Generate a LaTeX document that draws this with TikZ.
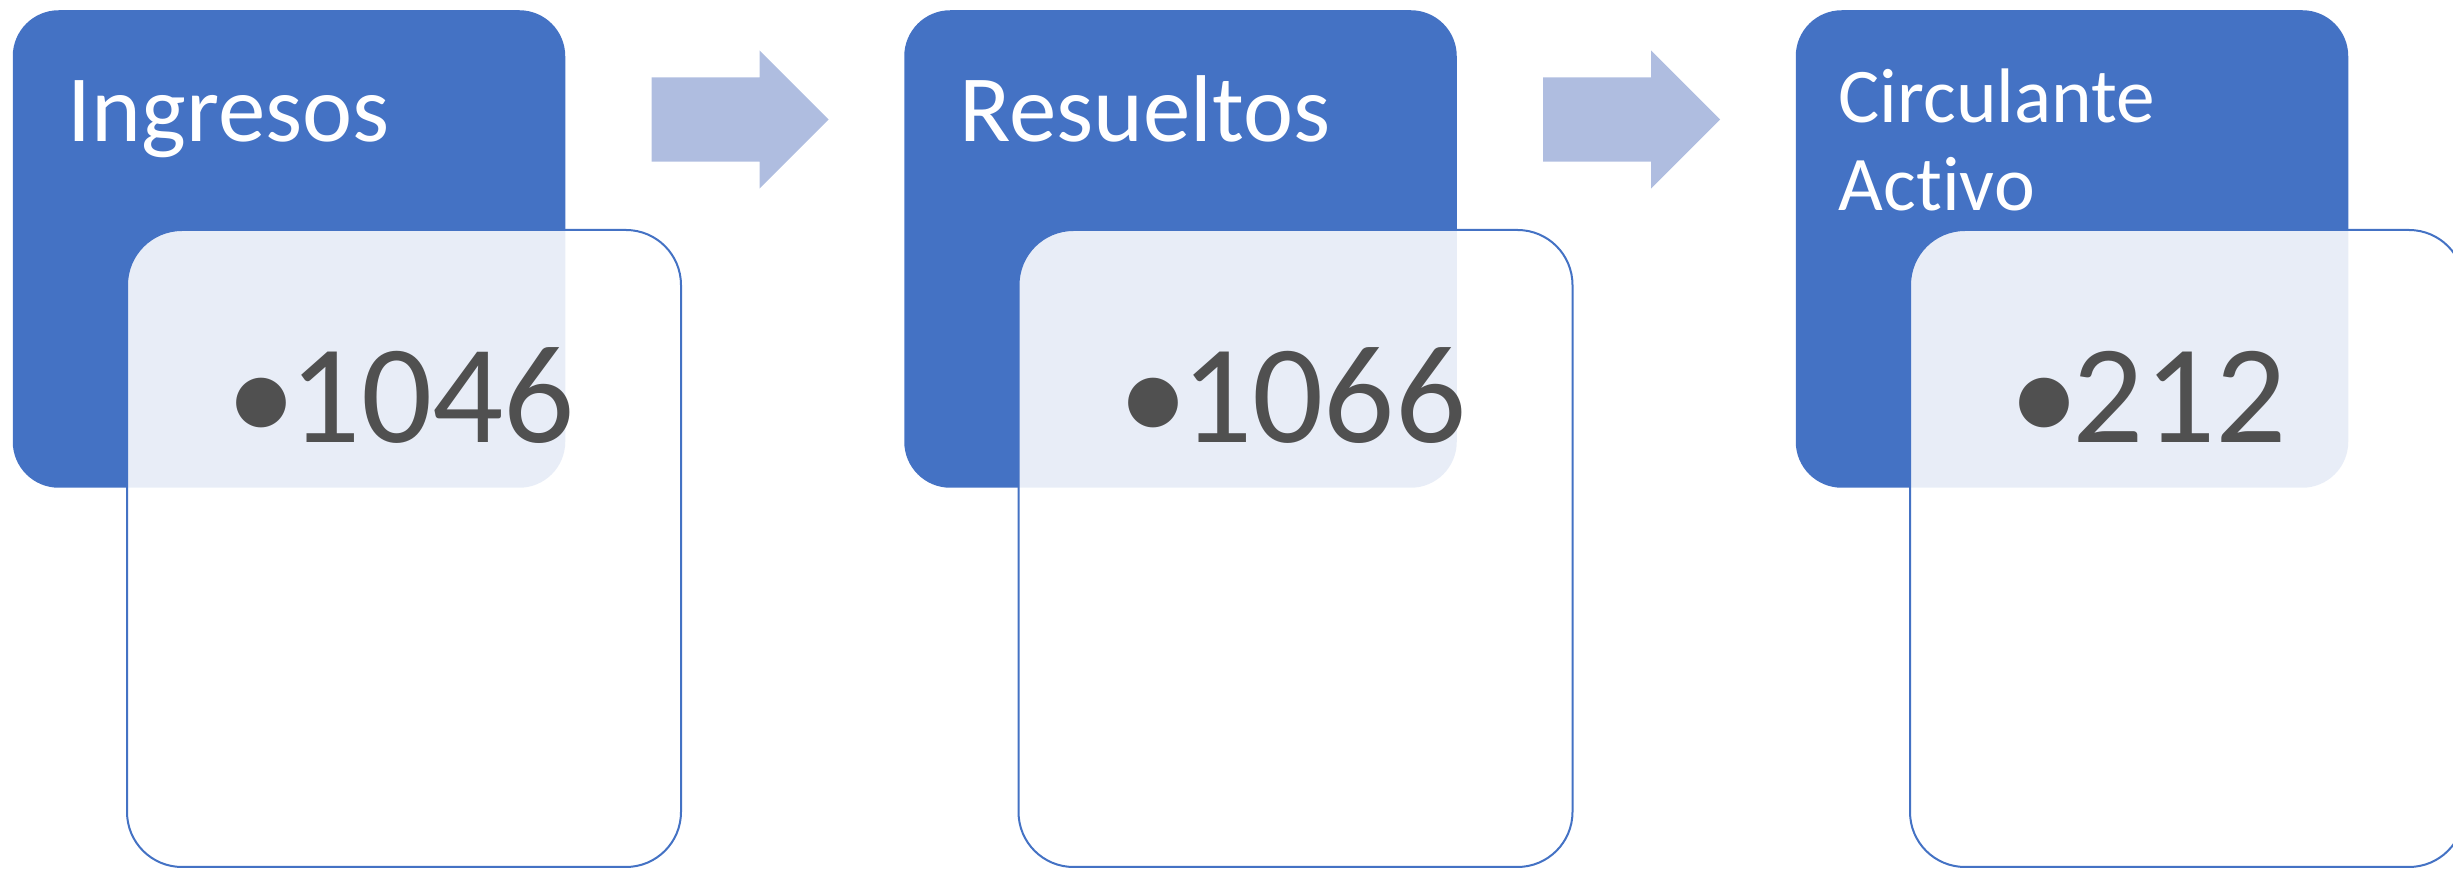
\documentclass[tikz,border=0pt]{standalone}
\usepackage{fontspec}
\setmainfont{Carlito}[Ligatures={NoCommon}]
\usetikzlibrary{shapes,arrows,positioning}
\definecolor{accent}{HTML}{4472C4}
\definecolor{arrfill}{HTML}{AFBDE0}
\definecolor{numgray}{HTML}{505050}
\tikzstyle{blk} = [rectangle, rounded corners=0.46cm, fill=accent, minimum width=5.525cm, minimum height=4.775cm, inner sep=0pt]
\tikzstyle{det} = [rectangle, rounded corners=0.55cm, draw=accent, line width=0.02cm, fill=white, fill opacity=0.88, minimum width=5.54cm, minimum height=6.37cm, inner sep=0pt]
\tikzstyle{arr} = [single arrow, fill=arrfill, single arrow tip angle=90, single arrow head extend=0.27cm, minimum height=1.77cm, inner xsep=0pt, inner ysep=0.415cm]
\tikzstyle{ttl} = [text=white, inner sep=0pt, align=left, font=\fontsize{27}{33}\selectfont]
\tikzstyle{num} = [text=numgray, inner sep=0pt, font=\fontsize{40}{48}\selectfont]
\newcommand{\bul}{\textbullet\hspace{-0.07cm}}

\begin{document}
\begin{tikzpicture}
		\useasboundingbox (0,0) rectangle (24.53,8.69);
		
		\node [blk] at (2.89,6.20) (blk1) {};
		\node [blk, right of = blk1, node distance = 8.915cm] (blk2) {};
		\node [blk, right of = blk2, node distance = 8.915cm] (blk3) {};
		
		\node [arr, right of = blk1, node distance = 3.62cm, yshift = 1.295cm, anchor = tail] (arr1) {};
		\node [arr, right of = blk2, node distance = 3.62cm, yshift = 1.295cm, anchor = tail] (arr2) {};
		
		\node [det, right of = blk1, node distance = 1.15cm, yshift = -2.995cm] (det1) {};
		\node [det, right of = blk2, node distance = 1.15cm, yshift = -2.995cm] (det2) {};
		\node [det, right of = blk3, node distance = 1.15cm, yshift = -2.995cm] (det3) {};
		
		\node [ttl, left of = blk1, node distance = 2.22cm, yshift = 1.07cm, anchor = base west] (ttl1) {Ingresos};
		\node [ttl, left of = blk2, node distance = 2.22cm, yshift = 1.07cm, anchor = base west] (ttl2) {Resueltos};
		\node [ttl, left of = blk3, node distance = 2.34cm, yshift = 0.38cm, anchor = base west, font=\fontsize{22}{25.3}\selectfont] (ttl3) {Circulante\\Activo};
		
		\node [num, left of = blk1, node distance = 0.63cm, yshift = -1.94cm, anchor = base west] (num1) {\bul 1046};
		\node [num, left of = blk2, node distance = 0.63cm, yshift = -1.94cm, anchor = base west] (num2) {\bul 1066};
		\node [num, left of = blk3, node distance = 0.63cm, yshift = -1.94cm, anchor = base west] (num3) {\bul 212};
\end{tikzpicture}
\end{document}
